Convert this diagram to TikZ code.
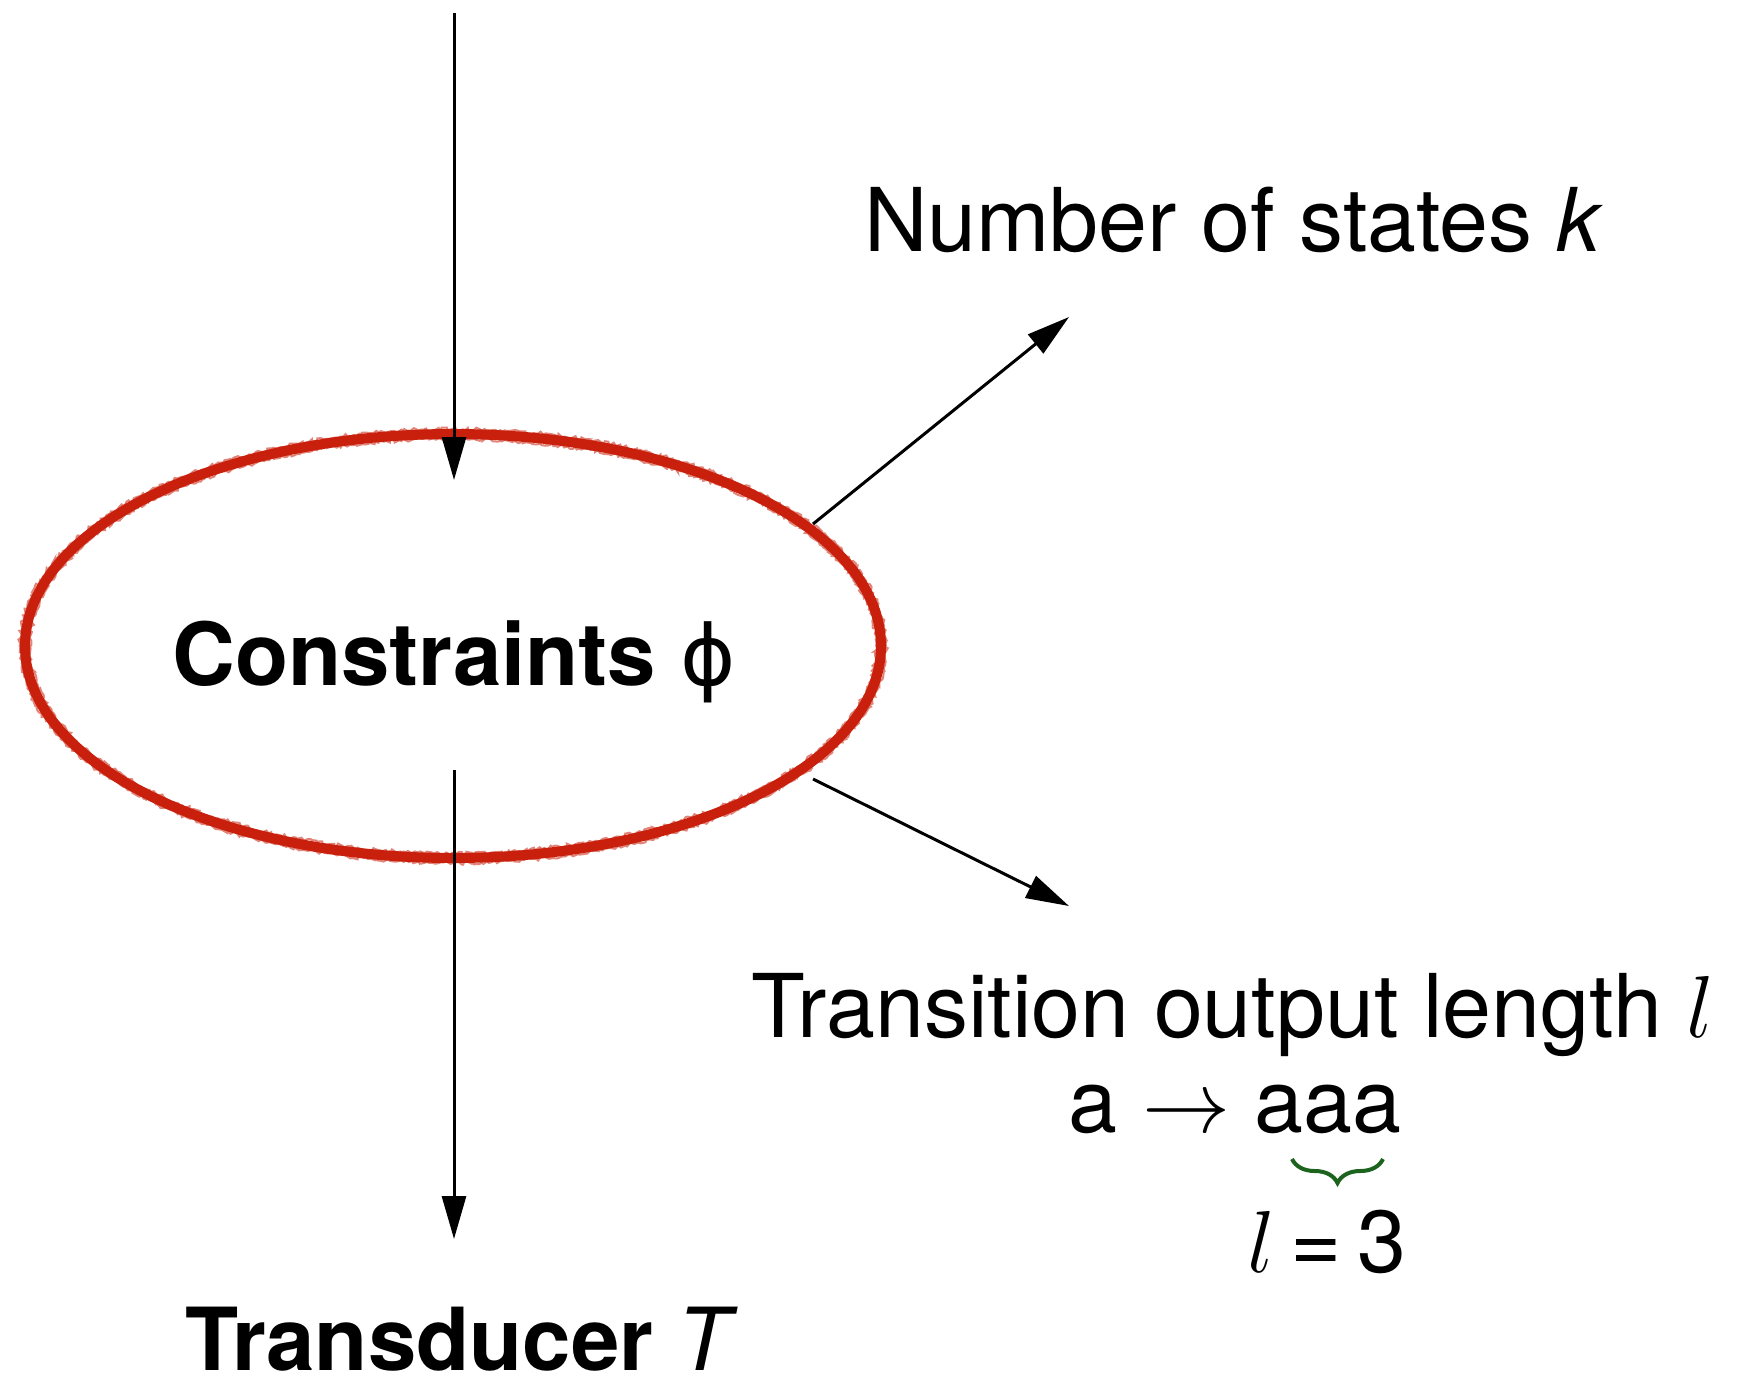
\RequirePackage{fix-cm}
\documentclass[tikz,border=0pt]{standalone}
\usepackage{fontspec}
\setmainfont{TeX Gyre Heros}
\newfontfamily\phifont{DejaVu Sans}
\usetikzlibrary{arrows.meta,decorations.pathreplacing,decorations.pathmorphing,shapes.geometric}
\definecolor{chalkred}{RGB}{200,32,12}
\definecolor{bracegreen}{RGB}{28,100,30}
\tikzset{
  conn/.style={line width=3pt,-{Triangle[length=43pt,width=24pt]}},
  bigtext/.style={font=\fontsize{88}{100}\selectfont, inner sep=0pt, anchor=base},
  boldtext/.style={font=\bfseries\fontsize{87}{100}\selectfont, inner sep=0pt, anchor=base},
  chalk/.style={draw=chalkred, line width=2pt, opacity=0.55, decorate, decoration={random steps, segment length=2.5pt, amplitude=1.8pt}}
}
\begin{document}
\begin{tikzpicture}[x=1pt,y=-1pt]
\useasboundingbox (0,0) rectangle (1758,1376);
\node[ellipse, draw=chalkred, line width=10pt, minimum width=856pt, minimum height=424pt, inner sep=0pt] (cons) at (453,646) {};
\pgfmathsetseed{7}
\draw[chalk] (cons.center) ellipse [x radius=433pt, y radius=217pt];
\draw[chalk] (cons.center) ellipse [x radius=423pt, y radius=207pt];
\node[boldtext] (ctext) at (454,685) {Constraints {\mdseries\phifont\fontsize{84}{100}\selectfont ϕ}};
\coordinate (in) at (454,13);
\coordinate (intip) at (454,480);
\coordinate (outs) at (454,770);
\coordinate (outtip) at (454,1239);
\coordinate (d1s) at (813,524);
\coordinate (d1e) at (1069,317);
\coordinate (d2s) at (813,779);
\coordinate (d2e) at (1069,906);
\draw[conn] (in) -- (intip);
\draw[conn] (outs) -- (outtip);
\draw[conn] (d1s) -- (d1e);
\draw[conn] (d2s) -- (d2e);
\node[bigtext] (ks) at (1234,251) {Number of states \textit{k}};
\node[bigtext] (tol) at (1233,1037) {Transition output length $l$};
\node[bigtext] (rule) at (1235,1132) {a $\rightarrow$ aaa};
\coordinate (bl) at (1292,1159);
\coordinate (br) at (1383,1159);
\draw[bracegreen, line width=4pt, decorate, decoration={brace, mirror, amplitude=24pt}] (bl) -- (br);
\node[bigtext] (leq) at (1327,1272) {$l$\kern16pt=\kern16pt3};
\node[boldtext] (trans) at (458,1370) {Transducer {\mdseries\itshape T}};
\end{tikzpicture}
\end{document}
